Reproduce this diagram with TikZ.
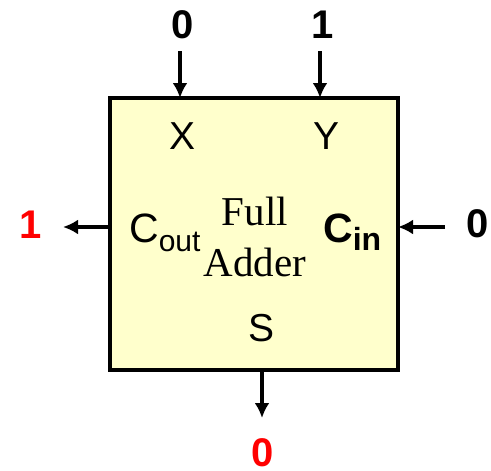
\documentclass[tikz,border=0pt]{standalone}
\usepackage{fontspec}
\setmainfont{Liberation Serif}
\newfontfamily\arialfont{Liberation Sans}
\usetikzlibrary{arrows.meta,positioning}
\definecolor{adderfill}{RGB}{255,255,204}

\begin{document}
\begin{tikzpicture}[
    x=1pt, y=-1pt,
    block/.style={draw, line width=4pt, fill=adderfill, minimum width=288pt, minimum height=272pt, inner sep=0pt, outer sep=0pt},
    port/.style={font=\arialfont\fontsize{39}{39}\selectfont, inner sep=0pt},
    bit/.style={font=\arialfont\bfseries\fontsize{40}{40}\selectfont, inner sep=0pt},
    title/.style={font=\fontsize{41}{41}\selectfont, inner sep=0pt},
    arrow/.style={-{Latex[length=15pt,width=15pt]}, line width=3.5pt}
]
\useasboundingbox (0,0) rectangle (491,471);
\node[block] (adder) at (254,234) {};
\node[port] (x) at (183,136) {X};
\node[port] (y) at (327,136) {Y};
\node[port] (s) at (262,328) {S};
\node[port, font=\arialfont\fontsize{41}{41}\selectfont, anchor=base west] (cout) at (129,242) {C\raisebox{-9pt}{\fontsize{30}{30}\selectfont out}};
\node[port, font=\arialfont\bfseries\fontsize{41}{41}\selectfont, anchor=base west] (cin) at (323,242) {C\raisebox{-8pt}{\fontsize{32}{32}\selectfont in}};
\node[title, anchor=base] (full) at (255,225) {Full};
\node[title, anchor=base] (add) at (255,276) {Adder};
% values on the pins
\node[bit] (xv) at (182.5,25) {0};
\node[bit] (yv) at (323,25) {1};
\node[bit, red] (coutv) at (31,225) {1};
\node[bit] (cinv) at (477.5,224) {0};
\node[bit, red] (sv) at (262.5,453) {0};
\coordinate (xtail) at (180,51);
\coordinate (ytail) at (320,51);
\coordinate (couthead) at (63,227);
\coordinate (cintail) at (445,227);
\coordinate (shead) at (262,418);
\draw[arrow] (xtail) -- (xtail |- adder.north);
\draw[arrow] (ytail) -- (ytail |- adder.north);
\draw[arrow] (couthead -| adder.west) -- (couthead);
\draw[arrow] (cintail) -- (cintail -| adder.east);
\draw[arrow] (shead |- adder.south) -- (shead);
\end{tikzpicture}
\end{document}
